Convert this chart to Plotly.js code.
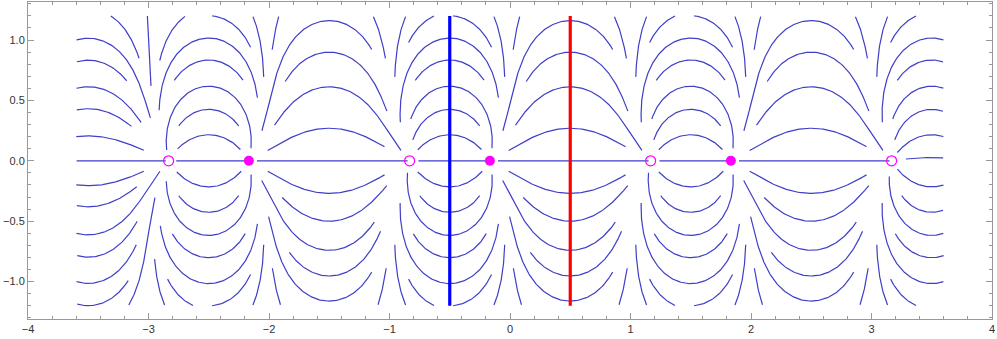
<!DOCTYPE html>
<html>
<head>
<meta charset="utf-8">
<script src="https://cdn.plot.ly/plotly-3.0.1.min.js"></script>
<style>
  html, body { margin: 0; padding: 0; background: #fff; }
  #plot { width: 997px; height: 339px; }
</style>
</head>
<body>
<div id="plot"></div>
<script>
const openX = [-2.833, -0.833, 1.167, 3.167];   // open circles, sinks
const filledX = [-2.167, -0.167, 1.833];        // filled dots, sources
const chargeY = 0;
const period = 2;

// the two marker lines
const blueLineX = [-0.5];
const redLineX = [0.5];

// area covered by the stream lines
const streamX = [-3.6, 3.6];
const streamY = [-1.2, 1.2];

// one source and one sink per period, the rest are their images
const charges = [
  { a: filledX[1], q: 1 },
  { a: openX[1], q: -1 },
];

// field of a row of line charges: conj(sum q*(pi/P)*cot(pi(z-a)/P))
function field(x, y) {
  let re = 0, im = 0;
  charges.forEach(c => {
    const wa = 2 * Math.PI * (x - c.a) / period;
    const wb = 2 * Math.PI * (y - chargeY) / period;
    const den = Math.cosh(wb) - Math.cos(wa);
    re += c.q * Math.sin(wa) / den;
    im += c.q * -Math.sinh(wb) / den;
  });
  return [re, -im];
}

function unit(v) {
  const m = Math.hypot(v[0], v[1]);
  if (!isFinite(m) || m < 1e-9) return null;
  return [v[0] / m, v[1] / m];
}

const dsep = 0.17, dtest = 0.085, h = 0.01, maxLen = 0.8;
const allCharges = openX.concat(filledX);

// spatial grid of the points already drawn
const cell = dsep;
const grid = new Map();
function key(i, j) { return i + ',' + j; }
function addPoint(x, y, id) {
  const k = key(Math.floor(x / cell), Math.floor(y / cell));
  if (!grid.has(k)) grid.set(k, []);
  grid.get(k).push([x, y, id]);
}
function nearest(x, y, id) {
  const ci = Math.floor(x / cell), cj = Math.floor(y / cell);
  let best = Infinity;
  for (let i = ci - 1; i <= ci + 1; i++) {
    for (let j = cj - 1; j <= cj + 1; j++) {
      const list = grid.get(key(i, j));
      if (!list) continue;
      list.forEach(p => {
        if (p[2] === id) return;
        const d = Math.hypot(p[0] - x, p[1] - y);
        if (d < best) best = d;
      });
    }
  }
  return best;
}

function inside(x, y) {
  return x >= streamX[0] && x <= streamX[1] && y >= streamY[0] && y <= streamY[1];
}
function nearCharge(x, y) {
  return allCharges.some(a => Math.hypot(x - a, y - chargeY) < 0.025);
}

function follow(x0, y0, dir, id) {
  const pts = [];
  let x = x0, y = y0, len = 0;
  while (len < maxLen) {
    const d1 = unit(field(x, y));
    if (!d1) break;
    const d2 = unit(field(x + dir * h / 2 * d1[0], y + dir * h / 2 * d1[1]));
    if (!d2) break;
    const nx = x + dir * h * d2[0], ny = y + dir * h * d2[1];
    if (!inside(nx, ny)) break;
    if (nearCharge(nx, ny)) { pts.push([nx, ny]); break; }
    if (nearest(nx, ny, id) < dtest) break;
    pts.push([nx, ny]);
    x = nx; y = ny; len += h;
  }
  return pts;
}

const lineX = [], lineY = [];
let lineId = 0;
function tryStream(x0, y0) {
  if (!inside(x0, y0) || nearCharge(x0, y0)) return;
  if (nearest(x0, y0, -1) < dsep) return;
  const id = lineId++;
  const back = follow(x0, y0, -1, id).reverse();
  const fwd = follow(x0, y0, 1, id);
  const pts = back.concat([[x0, y0]], fwd);
  if (pts.length < 8) return;
  pts.forEach(p => { addPoint(p[0], p[1], id); lineX.push(p[0]); lineY.push(p[1]); });
  lineX.push(null); lineY.push(null);
}

// axis lines first, then coarse to fine seeding
const sorted = allCharges.slice().sort((a, b) => a - b);
tryStream((streamX[0] + sorted[0]) / 2, chargeY);
for (let i = 0; i < sorted.length - 1; i++) tryStream((sorted[i] + sorted[i + 1]) / 2, chargeY);
[0.4, 0.2, 0.1, 0.05].forEach(step => {
  for (let y = streamY[1] - step / 2; y > streamY[0]; y -= step) {
    for (let x = streamX[0] + step / 2; x < streamX[1]; x += step) {
      tryStream(x, y);
    }
  }
});

const lineColor = 'rgb(62,62,200)';
const frame = '#999999';

const traces = [
  {
    x: lineX, y: lineY, type: 'scatter', mode: 'lines',
    line: { color: lineColor, width: 1.2 }, connectgaps: false, hoverinfo: 'skip',
  },
  {
    x: [blueLineX[0], blueLineX[0]], y: streamY, type: 'scatter', mode: 'lines',
    line: { color: '#0000ff', width: 3.2 },
  },
  {
    x: [redLineX[0], redLineX[0]], y: streamY, type: 'scatter', mode: 'lines',
    line: { color: '#ff0000', width: 3.2 },
  },
  {
    x: openX, y: openX.map(() => chargeY), type: 'scatter', mode: 'markers',
    marker: { symbol: 'circle-open', size: 10, color: '#ff00ff', line: { width: 1.2, color: '#ff00ff' } },
  },
  {
    x: filledX, y: filledX.map(() => chargeY), type: 'scatter', mode: 'markers',
    marker: { symbol: 'circle', size: 10, color: '#ff00ff' },
  },
];

const axisCommon = {
  showline: true, linecolor: frame, linewidth: 1, mirror: 'ticks',
  ticks: 'inside', ticklen: 6, tickcolor: frame, tickwidth: 1,
  showgrid: false, zeroline: false,
  tickfont: { family: 'Liberation Sans, Arial, sans-serif', size: 11, color: '#333' },
};

const layout = {
  width: 997, height: 339,
  margin: { l: 28, r: 5, t: 2, b: 20 },
  paper_bgcolor: '#fff', plot_bgcolor: '#fff',
  showlegend: false,
  xaxis: Object.assign({}, axisCommon, {
    range: [-4, 4], dtick: 1, tick0: 0,
    minor: { dtick: 0.2, ticks: 'inside', ticklen: 3, tickcolor: frame, showgrid: false },
  }),
  yaxis: Object.assign({}, axisCommon, {
    range: [-1.31, 1.315], dtick: 0.5, tick0: 0, tickformat: '.1f',
    minor: { dtick: 0.1, ticks: 'inside', ticklen: 3, tickcolor: frame, showgrid: false },
  }),
};

Plotly.newPlot('plot', traces, layout, { displayModeBar: false, staticPlot: true });
</script>
</body>
</html>
